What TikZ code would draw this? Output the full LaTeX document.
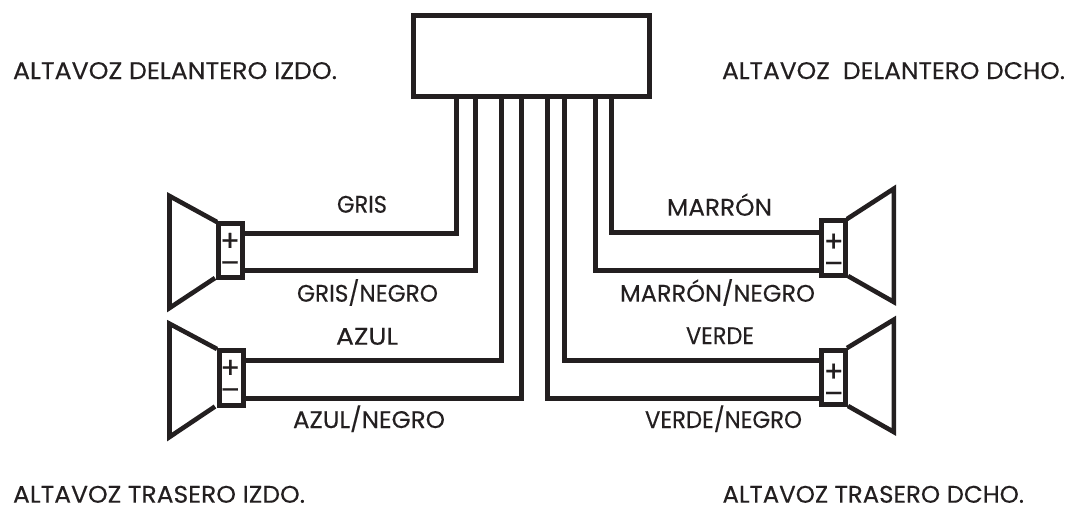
\documentclass[tikz,border=0pt]{standalone}
\usepackage{graphicx}
\usepackage{fontspec}
\setmainfont{Poppins}[FakeBold=0.25]
\definecolor{ink}{HTML}{231F20}
\newcommand{\lbl}[2]{\resizebox{#1pt}{\height}{#2}}
\tikzset{
  wire/.style={draw=ink,line width=5pt,line join=miter},
  horn/.style={draw=ink,line width=4.6pt,line join=miter,miter limit=10},
  headbox/.style={draw=ink,line width=5pt,fill=white,rectangle,outer sep=0pt,inner sep=0pt,minimum width=236pt,minimum height=81.5pt},
  termbox/.style={draw=ink,line width=5pt,fill=white,rectangle,outer sep=0pt,inner sep=0pt,minimum width=24pt,minimum height=54.5pt},
  txt/.style={text=ink,inner sep=0pt,outer sep=0pt,anchor=base west,font=\fontsize{24}{24}\selectfont},
  sign/.style={text=ink,inner sep=0pt,outer sep=0pt,anchor=base,font=\fontsize{29}{29}\selectfont}
}
\begin{document}
\begin{tikzpicture}[x=1pt,y=-1pt]
\useasboundingbox (0,0) rectangle (1073,506);
% loudspeaker cones
\draw[horn] (217,222) -- (169.5,196) -- (169.5,308) -- (215,278);
\draw[horn] (217,349) -- (169.5,323.7) -- (169.5,437) -- (215,406.5);
\draw[horn] (847,219) -- (893.8,188.7) -- (893.8,302) -- (848,276);
\draw[horn] (847,348) -- (893.8,319.7) -- (893.8,432) -- (848,406);
% head unit and terminals
\node[headbox] (head) at (531.5,55.75) {};
\node[termbox] (tfl) at (230.5,250.5) {};
\node[termbox] (trl) at (231,378) {};
\node[termbox] (tfr) at (833.5,248) {};
\node[termbox] (trr) at (833.5,377.5) {};
% connection points
\coordinate (p1) at (456,96.5);
\coordinate (p2) at (475,96.5);
\coordinate (p3) at (501,96.5);
\coordinate (p4) at (521,96.5);
\coordinate (p5) at (547,96.5);
\coordinate (p6) at (564,96.5);
\coordinate (p7) at (595,96.5);
\coordinate (p8) at (611,96.5);
\coordinate (a1) at (242.5,233);
\coordinate (a2) at (242.5,270.7);
\coordinate (a3) at (243,360.7);
\coordinate (a4) at (243,398.7);
\coordinate (a5) at (821.5,398);
\coordinate (a6) at (821.5,360);
\coordinate (a7) at (821.5,270);
\coordinate (a8) at (821.5,232);
% wires
\draw[wire] (p1) |- (a1);
\draw[wire] (p2) |- (a2);
\draw[wire] (p3) |- (a3);
\draw[wire] (p4) |- (a4);
\draw[wire] (p5) |- (a5);
\draw[wire] (p6) |- (a6);
\draw[wire] (p7) |- (a7);
\draw[wire] (p8) |- (a8);
% signs
\node[sign] (s1) at (230,251) {+};
\node[sign] (s2) at (230,273) {–};
\node[sign] (s3) at (230.3,378) {+};
\node[sign] (s4) at (230.3,400) {–};
\node[sign] (s5) at (833.7,251.7) {+};
\node[sign] (s6) at (833.7,273.7) {–};
\node[sign] (s7) at (833.7,381.7) {+};
\node[sign] (s8) at (833.7,403.7) {–};
% labels
\node[txt] (l1) at (13,79) {\lbl{324}{ALTAVOZ DELANTERO IZDO.}};
\node[txt] (l2) at (722,79) {\lbl{343}{ALTAVOZ\ \ DELANTERO DCHO.}};
\node[txt] (l3) at (13,502.7) {\lbl{292}{ALTAVOZ TRASERO IZDO.}};
\node[txt] (l4) at (722.5,502.7) {\lbl{301.5}{ALTAVOZ TRASERO DCHO.}};
\node[txt] (w1) at (337,212.7) {\lbl{50}{GRIS}};
\node[txt] (w2) at (297,301.7) {\lbl{141}{GRIS/NEGRO}};
\node[txt] (w3) at (336,344.7) {\lbl{62}{AZUL}};
\node[txt] (w4) at (293,428) {\lbl{152}{AZUL/NEGRO}};
\node[txt] (w5) at (667,215.7) {\lbl{105}{MARRÓN}};
\node[txt] (w6) at (620,301.7) {\lbl{195}{MARRÓN/NEGRO}};
\node[txt] (w7) at (686,344) {\lbl{68}{VERDE}};
\node[txt] (w8) at (645,428) {\lbl{157}{VERDE/NEGRO}};
\end{tikzpicture}
\end{document}
